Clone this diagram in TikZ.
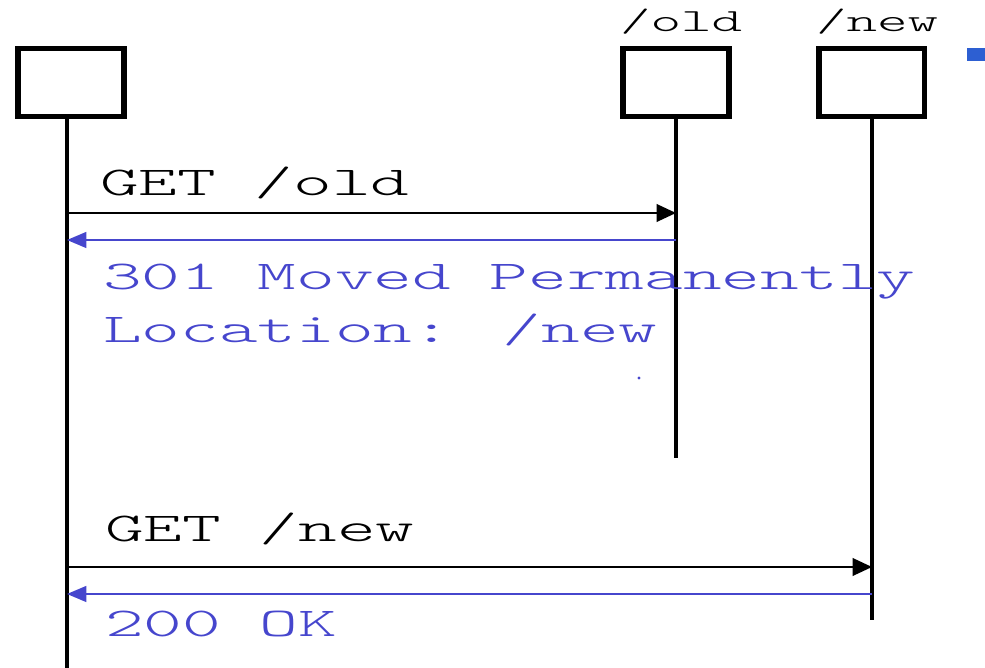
\documentclass[tikz,border=0pt]{standalone}
\usepackage{fontspec}
\usetikzlibrary{arrows.meta}
\definecolor{msgblue}{RGB}{70,70,205}
\definecolor{sqblue}{RGB}{45,95,210}
\newcommand{\bigmono}[1]{\scalebox{1.8}[1]{\fontsize{23.3}{28}\ttfamily\fontseries{l}\selectfont #1}}
\newcommand{\smallmono}[1]{\scalebox{1.8}[1]{\fontsize{18.4}{22}\ttfamily\fontseries{l}\selectfont #1}}
\begin{document}
\begin{tikzpicture}[x=0.02cm,y=-0.02cm,
  actor/.style={draw=black,line width=3.4pt,fill=white,minimum width=2.12cm,minimum height=1.36cm,inner sep=0pt},
  lifeline/.style={draw=black,line width=1.8pt},
  reqmsg/.style={draw=black,line width=1.1pt,-{Triangle[length=11pt,width=10pt]}},
  repmsg/.style={draw=msgblue,line width=1.1pt,-{Triangle[length=11pt,width=9pt]}},
  lbl/.style={anchor=base west,inner sep=0pt,outer sep=0pt},
  replbl/.style={lbl,text=msgblue}]
\useasboundingbox (0,0) rectangle (985,668);
% actors
\node[actor] (client) at (71,82.5) {};
\node[actor] (old) at (676,82.5) {};
\node[actor] (new) at (871.5,82.5) {};
\node[lbl] (oldname) at (620,32) {\smallmono{/old}};
\node[lbl] (newname) at (816,32) {\smallmono{/new}};
% bullet square at right edge
\fill[sqblue] (967,48) rectangle (985,61);
% lifeline ends
\coordinate (cend) at (67,668);
\coordinate (oend) at (676,458);
\coordinate (nend) at (872,620);
\draw[lifeline] (client.south -| cend) -- (cend);
\draw[lifeline] (old.south -| oend) -- (oend);
\draw[lifeline] (new.south -| nend) -- (nend);
% message points
\coordinate (m1a) at (67,213);
\coordinate (m1b) at (676,213);
\coordinate (m2a) at (676,240);
\coordinate (m2b) at (67,240);
\coordinate (m3a) at (67,567);
\coordinate (m3b) at (872,567);
\coordinate (m4a) at (872,594);
\coordinate (m4b) at (67,594);
\draw[reqmsg] (m1a) -- (m1b);
\draw[repmsg] (m2a) -- (m2b);
\draw[reqmsg] (m3a) -- (m3b);
\draw[repmsg] (m4a) -- (m4b);
% labels
\node[lbl] (t1) at (100,196) {\bigmono{GET /old}};
\node[replbl] (t2) at (103,290) {\bigmono{301 Moved Permanently}};
\node[replbl] (t3) at (103,343) {\bigmono{Location: /new}};
\node[lbl] (t4) at (105,542) {\bigmono{GET /new}};
\node[replbl] (t5) at (105,637) {\bigmono{200 OK}};
\fill[msgblue] (639,378) circle (1.6);
\end{tikzpicture}
\end{document}
